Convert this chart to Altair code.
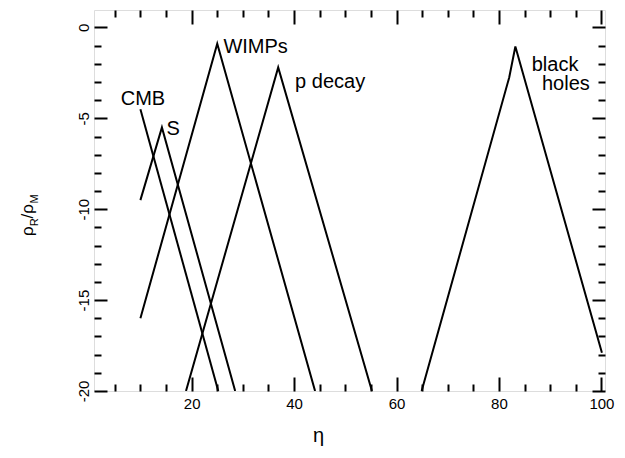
import altair as alt
import pandas as pd

# ---- data ----
series_names = ["CMB", "S", "WIMPs", "p decay", "black holes"]
cmb_eta = [10.0, 25.2]
cmb_rho = [-4.5, -20.0]
s_eta = [10.0, 14.2, 28.5]
s_rho = [-9.5, -5.5, -20.0]
wimps_eta = [10.0, 25.0, 44.1]
wimps_rho = [-16.0, -0.9, -20.0]
pdecay_eta = [18.9, 36.9, 55.2]
pdecay_rho = [-20.0, -2.2, -20.0]
bh_eta = [64.9, 82.0, 83.2, 100.1]
bh_rho = [-20.0, -2.75, -1.05, -17.9]

label_text = ["CMB", "S", "WIMPs", "p decay", "black", "holes"]
label_eta = [6.15, 15.1, 26.2, 40.2, 86.4, 88.4]
label_rho = [-4.25, -5.9, -1.41, -3.32, -2.38, -3.45]

x_major = [20, 40, 60, 80, 100]
x_minor = [5, 10, 15, 25, 30, 35, 45, 50, 55, 65, 70, 75, 85, 90, 95]
y_major = [-20, -15, -10, -5, 0]
y_minor = [-19, -18, -17, -16, -14, -13, -12, -11, -9, -8, -7, -6, -4, -3, -2, -1]

title_parts = ["ρ", "R", "/ρ", "M"]

# ---- tables ----
rows = []
for name, xs, ys in zip(series_names,
                        [cmb_eta, s_eta, wimps_eta, pdecay_eta, bh_eta],
                        [cmb_rho, s_rho, wimps_rho, pdecay_rho, bh_rho]):
    for i, (a, b) in enumerate(zip(xs, ys)):
        rows.append({"series": name, "idx": i, "eta": a, "rho": b})
lines_df = pd.DataFrame(rows)
labels_df = pd.DataFrame({"text": label_text, "eta": label_eta, "rho": label_rho})

W, H = 511, 381
FONT = "Liberation Sans"

xs_ = alt.Scale(domain=[0.94, 100.7], nice=False, zero=False)
ys_ = alt.Scale(domain=[-20, 0.96], nice=False, zero=False)


def X(axis):
    return alt.X("eta:Q", scale=xs_, axis=axis)


def Y(axis):
    return alt.Y("rho:Q", scale=ys_, axis=axis)


main = alt.Chart(lines_df).mark_line(color="black", strokeWidth=2, clip=True).encode(
    x=X(alt.Axis(values=x_major, labelExpr="'' + datum.value", ticks=False, domain=False,
                 grid=False, labelFontSize=15, labelPadding=5, labelFlush=False,
                 labelColor="black", labelFont=FONT,
                 title="η", titleFontSize=20, titleFontWeight="normal", titleFont=FONT,
                 titleColor="black", titleX=224, titleY=50, titleAlign="center",
                 titleBaseline="alphabetic")),
    y=Y(alt.Axis(values=y_major, labelExpr="'' + datum.value", ticks=False, domain=False,
                 grid=False, labelAngle=270, labelAlign="center", labelBaseline="bottom",
                 labelPadding=3, labelFontSize=15, labelFlush=False, labelColor="black",
                 labelFont=FONT, title=None)),
    detail="series:N",
    order="idx:Q",
)


def tick_layer(ch, orient, vals, size):
    ax = alt.Axis(orient=orient, offset=-(H if ch == "x" else W), values=vals,
                  tickSize=size, tickWidth=2, tickColor="black", labels=False,
                  domain=False, grid=False, title=None)
    if ch == "x":
        enc = dict(x=X(ax), y=Y(None))
    else:
        enc = dict(x=X(None), y=Y(ax))
    return alt.Chart(lines_df).mark_line(opacity=0).encode(detail="series:N", **enc)


tick_layers = [
    tick_layer("x", "top", x_major, 14),
    tick_layer("x", "top", x_minor, 7),
    tick_layer("x", "bottom", x_major, 14),
    tick_layer("x", "bottom", x_minor, 7),
    tick_layer("y", "right", y_major, 13),
    tick_layer("y", "right", y_minor, 7),
    tick_layer("y", "left", y_major, 13),
    tick_layer("y", "left", y_minor, 7),
]

annot = alt.Chart(labels_df).mark_text(align="left", baseline="alphabetic", fontSize=20,
                                       font=FONT, color="black").encode(
    x=X(None), y=Y(None), text="text:N")

one = pd.DataFrame({"k": [0]})
title_layers = []
for txt, px, py, fs in zip(title_parts, [-61, -56.5, -61, -56.5], [226, 216.2, 208.4, 193.5],
                           [17, 11, 17, 11]):
    title_layers.append(
        alt.Chart(one).mark_text(align="left", baseline="alphabetic", angle=270,
                                 fontSize=fs, font=FONT, color="black").encode(
            x=alt.value(px), y=alt.value(py), text=alt.value(txt)))

chart = alt.layer(main, *tick_layers, annot, *title_layers).resolve_axis(
    x="independent", y="independent"
).properties(
    width=W, height=H,
    autosize=alt.AutoSizeParams(type="none"),
    padding={"left": 86, "top": 2, "right": 10, "bottom": 60},
    background="white",
).configure_view(stroke="black", strokeWidth=2.5).configure(font=FONT)

chart.save("out.html", embed_options={"renderer": "svg", "actions": False})
